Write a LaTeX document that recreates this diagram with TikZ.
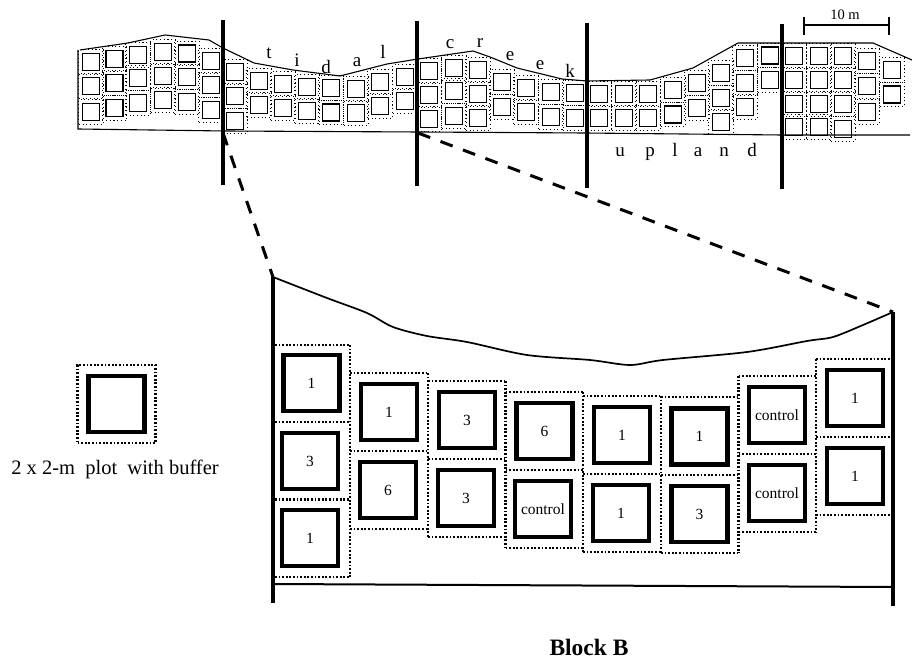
\documentclass[tikz,border=0pt]{standalone}
\usepackage{fontspec}
\setmainfont{Liberation Serif}
\tikzset{
    bigplot/.style = {draw, line width = 4.2pt, minimum size = 56pt, inner sep = 0pt, font = \fontsize{15.5}{15.5}\selectfont},
    bigbuffer/.style = {draw, line width = 2.2pt, dash pattern = on 1.8pt off 1.8pt, minimum size = 78pt, inner sep = 0pt},
    bufferline/.style = {line width = 2.2pt, dash pattern = on 1.8pt off 1.8pt},
    smallplot/.style = {draw, line width = 1.8pt, minimum size = 17pt, inner sep = 0pt},
    smallbuffer/.style = {draw, line width = 0.9pt, dash pattern = on 1.1pt off 2.6pt, minimum size = 24.4pt, inner sep = 0pt},
    creekletter/.style = {font = \fontsize{19}{19}\selectfont, inner sep = 0pt, anchor = base},
    marker/.style = {line width = 3.2pt}
}
\begin{document}
\begin{tikzpicture}[x = 1pt, y = -1pt]
    \useasboundingbox (0, 0) rectangle (912, 660);

    % strip along the creek
    \foreach \x/\ys in {91/{62,86,112}, 114.5/{59,83,108}, 138/{55,78,103}, 163/{52,76,100}, 187/{53.5,77,102}, 211/{61,85,110},
        235/{72,96,121}, 259/{81,105}, 283/{84,108}, 307/{87,111}, 331/{88,112.5}, 356/{89,113}, 380/{82,106}, 405/{77,101},
        429/{71,95,119}, 454/{68,91,116}, 478/{70,94,118}, 502/{82,107}, 526/{88,112}, 551/{92,117}, 575/{93,118}, 599/{94,118},
        624/{94,118}, 648/{94,118}, 673/{90,114.5}, 697/{83,108}, 721/{73,98,122}, 745/{58,83,107}, 770/{55.5,80},
        794/{56,80,104,127}, 819/{56,80,104,127}, 843/{56,80,104,129}, 867/{61,86,112}, 892/{70,94.5}}{
        \foreach \y in \ys {
            \node[smallbuffer] at (\x, \y) {};
            \node[smallplot] (s-\x-\y) at (\x, \y) {};
        }
    }
    \draw[line width = 1.1pt] (78, 50) -- (78, 129) -- (225, 131) -- (420, 132) -- (585, 133) -- (782, 135) -- (910, 135);
    \draw[line width = 1.1pt] (80, 50) -- (128, 43) -- (165, 35) -- (209, 40) -- (223, 48) -- (254, 63) -- (293, 70) -- (340, 76)
        -- (387, 64) -- (418, 59) -- (473, 51) -- (490, 57) -- (517, 68) -- (562, 79) -- (587, 81) -- (650, 80) -- (693, 68)
        -- (738, 43) -- (873, 43) -- (912, 60);

    % block boundaries
    \coordinate (ba) at (223, 133);
    \coordinate (bb) at (418, 133);
    \foreach \x/\a/\b in {223/20/185, 417/21/186, 587/23/188, 782/24/189}{
        \draw[marker] (\x, \a) -- (\x, \b);
    }

    % creek and upland letters
    \foreach \x/\y/\t in {269/59/t, 297/67/i, 326/73.5/d, 357/67/a, 383/59/l, 450/49/c, 480/48/r, 510/61/e, 540/70/e, 570/78/k,
        620/157/u, 650/157/p, 675/157/l, 698/157/a, 724/157/n, 752/157/d}{
        \node[creekletter] (l-\x) at (\x, \y) {\t};
    }

    % scale bar
    \coordinate (sa) at (804, 25);
    \coordinate (sb) at (889, 25);
    \draw[line width = 1.8pt] (sa) -- (sb);
    \draw[line width = 1.8pt] (804, 17) -- (804, 35);
    \draw[line width = 1.8pt] (889, 17) -- (889, 35);
    \node[font = \fontsize{14.5}{14.5}\selectfont, inner sep = 0pt] (scale) at (845, 15) {10 m};

    % block B frame
    \coordinate (fa) at (273, 277);
    \coordinate (fb) at (893, 312);
    \coordinate (fc) at (273, 584);
    \coordinate (fd) at (893, 587);
    \draw[marker] (fa) -- (273, 603);
    \draw[marker] (fb) -- (893, 606);
    \draw[line width = 2pt] (fc) -- (fd);
    \draw[line width = 1.7pt] plot[smooth, tension = 0.5] coordinates {(273, 277) (327, 298) (367, 313) (393, 327) (427, 336)
        (467, 342) (527, 355) (590, 360) (630, 365) (663, 360) (747, 352) (807, 341) (833, 337) (863, 325) (893, 312)};
    \draw[line width = 3pt, dash pattern = on 13pt off 11pt] (ba) -- (fa);
    \draw[line width = 3pt, dash pattern = on 13pt off 11pt] (bb) -- (fb);

    % buffers of block B, rows then columns
    \foreach \a/\b/\ys in {275/350/{345,422,499.5,577}, 350/428/{373,451,529}, 428/505.5/{381,459,537}, 505.5/583/{392,470,548},
        583/661/{396,474,552}, 661/738.5/{397,475,553}, 738.5/816/{376,454,532}, 816/891/{359,437,515}}{
        \foreach \y in \ys {
            \draw[bufferline] (\a, \y) -- (\b, \y);
        }
    }
    \foreach \x/\a/\b in {350/345/577, 428/373/537, 505.5/381/548, 583/392/552, 661/396/553, 738.5/376/553, 816/359/532}{
        \draw[bufferline] (\x, \a) -- (\x, \b);
    }

    % plots of block B
    \foreach \x/\y/\t [count = \i] in {311.5/383/1, 310/461/3, 310/538/1, 389/412/1, 388/490/6, 467/420/3, 466/498/3, 544.5/431/6,
        543/509/control, 622/435/1, 621/513/1, 699.5/436.5/1, 699.5/514/3, 777/415/control, 777/493/control, 855/398/1, 855/476/1}{
        \node[bigplot] (p\i) at (\x, \y) {\t};
    }

    % legend
    \node[bigbuffer] at (116.5, 404) {};
    \node[bigplot] (legend) at (116.5, 404) {};
    \node[font = \fontsize{20.5}{21}\selectfont, inner sep = 0pt] (legendtext) at (115, 469) {2 x 2-m\ \ plot\ \ with buffer};
    \node[font = \fontsize{23.5}{24}\selectfont\bfseries, inner sep = 0pt] (title) at (589, 647) {Block B};
\end{tikzpicture}
\end{document}
